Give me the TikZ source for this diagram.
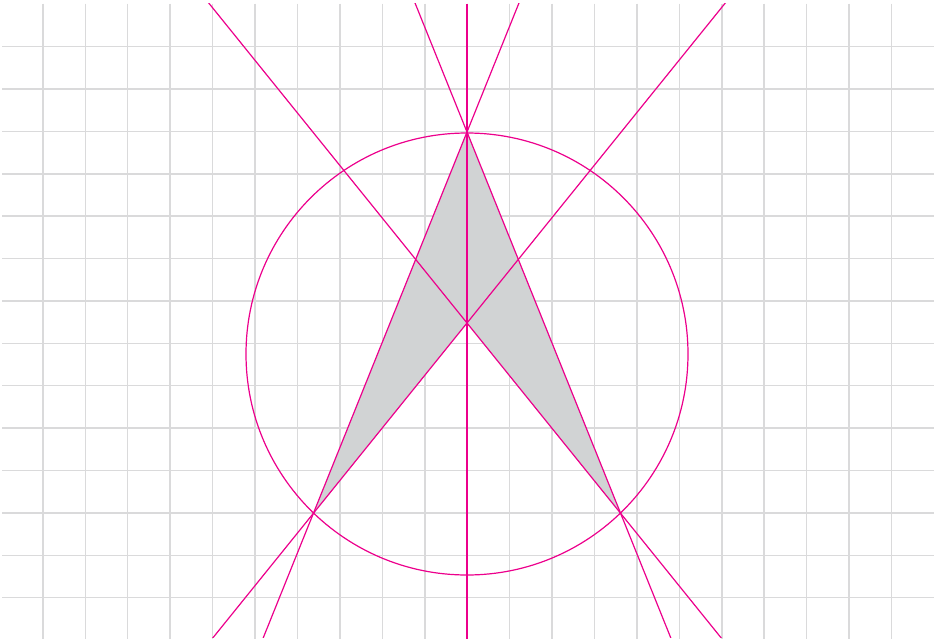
\documentclass[tikz,border=0pt]{standalone}
\usetikzlibrary{calc}
\definecolor{gridgray}{HTML}{DADADB}
\definecolor{mag}{HTML}{EC008C}
\definecolor{fillgray}{HTML}{D1D3D4}
\tikzset{
  gridline/.style={draw=gridgray, line width=1.1pt},
  conline/.style={draw=mag, line width=0.9pt},
  kite/.style={fill=fillgray}
}
\begin{document}
\begin{tikzpicture}[x=0.75pt, y=-0.75pt]
\useasboundingbox (0,0) rectangle (936,643);
% grid
\foreach \k in {0,...,20}
  \draw[gridline] ({42.9+42.43*\k},3.5) -- ({42.9+42.43*\k},639);
\foreach \k in {0,...,13}
  \draw[gridline] (2,{46.7+42.38*\k}) -- (934,{46.7+42.38*\k});
% construction points
\coordinate (A) at (467,132);
\coordinate (B) at (313.4,513.3);
\coordinate (C) at (620.6,513.3);
\coordinate (O) at (467,323);
\coordinate (M) at (467,354);
\coordinate (Vt) at (467,3.5);
\coordinate (Vb) at (467,639);
% shaded arrowhead
\fill[kite] (A) -- (B) -- (O) -- (C) -- cycle;
% circle
\draw[conline] (M) circle [radius=165.75pt];
% lines
\draw[conline] (Vt) -- (Vb);
\begin{scope}
  \clip (0,3.5) rectangle (936,637.5);
  \draw[conline] ($(A)!-3!(B)$) -- ($(A)!3!(B)$);
  \draw[conline] ($(A)!-3!(C)$) -- ($(A)!3!(C)$);
  \draw[conline] ($(B)!-3!(O)$) -- ($(B)!4!(O)$);
  \draw[conline] ($(C)!-3!(O)$) -- ($(C)!4!(O)$);
\end{scope}
\end{tikzpicture}
\end{document}
